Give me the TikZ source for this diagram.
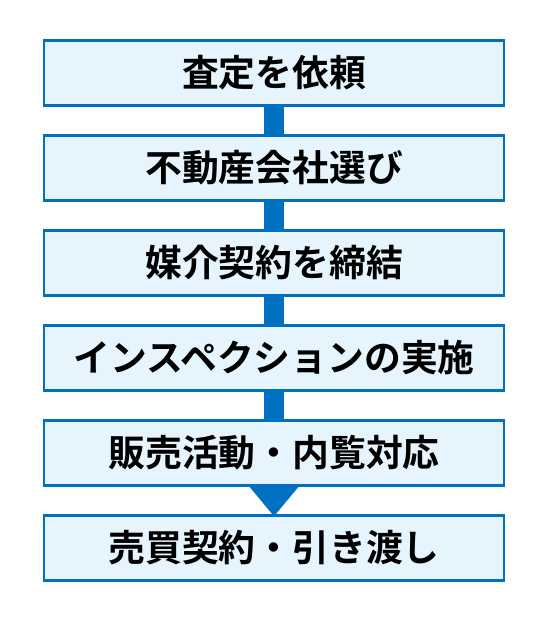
\documentclass[tikz,border=0pt]{standalone}
\usepackage{fontspec}
\usepackage{xcolor}
\newfontfamily\jpfont{Noto Sans CJK JP}[BoldFont={Noto Sans CJK JP Bold}]
\definecolor{waku}{HTML}{0070C0}
\definecolor{naka}{HTML}{E6F4FD}
\usetikzlibrary{arrows,positioning}

\begin{document}
\begin{tikzpicture}[x=1pt,y=-1pt,
  koutei/.style={rectangle,draw=waku,fill=naka,line width=2.5pt,
    minimum width=460pt,minimum height=65pt,inner sep=0pt,
    font=\jpfont\bfseries\fontsize{36.8pt}{40pt}\selectfont},
  bou/.style={draw=waku,line width=20pt}]
\useasboundingbox (0,0) rectangle (550,620);
\node[koutei] (sa) at (274,73){査定を依頼};
  \node[koutei] (fu) at (274,168){不動産会社選び};
    \draw[bou] (sa.south) -- (fu.north);
  \node[koutei] (ba) at (274,263){媒介契約を締結};
    \draw[bou] (fu.south) -- (ba.north);
  \node[koutei] (in) at (274,358){インスペクションの実施};
    \draw[bou] (ba.south) -- (in.north);
  \node[koutei] (ha) at (274,453){販売活動・内覧対応};
    \draw[bou] (in.south) -- (ha.north);
  \node[koutei] (ur) at (274,548){売買契約・引き渡し};
    \fill[waku] ([xshift=-24.5pt]ha.south) -- ([xshift=24.5pt]ha.south)
      -- ([yshift=-2pt]ur.north) -- cycle;

\end{tikzpicture}
\end{document}
